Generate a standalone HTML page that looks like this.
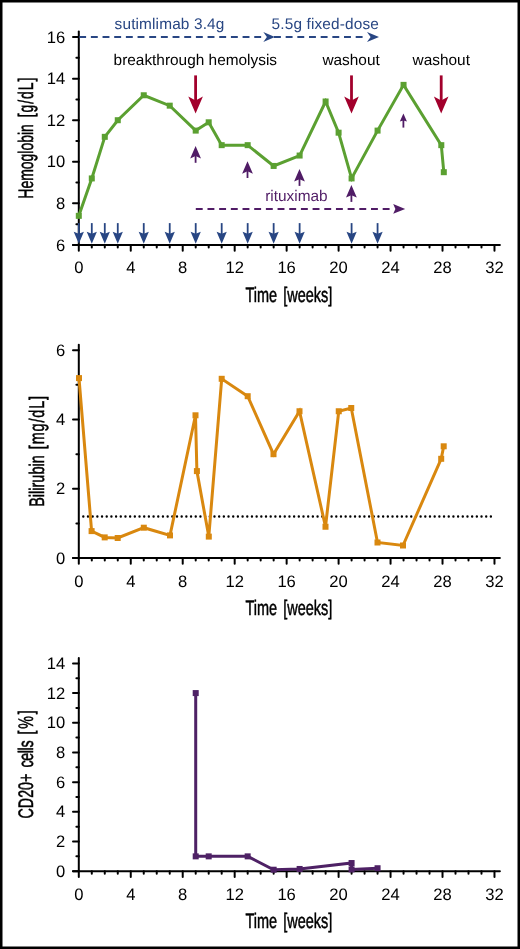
<!DOCTYPE html>
<html><head><meta charset="utf-8"><style>
html,body{margin:0;padding:0;background:#fff;}
body{width:520px;height:949px;overflow:hidden;}
svg{display:block;will-change:transform;text-rendering:geometricPrecision;}
.tk{font-family:"Liberation Sans",sans-serif;font-size:16.6px;fill:#000;}
.an{font-family:"Liberation Sans",sans-serif;font-size:15.4px;}
.bl{letter-spacing:0.14px;}
.ttl{font-family:"Liberation Sans",sans-serif;font-size:21px;fill:#000;stroke:#000;stroke-width:0.5px;word-spacing:3px;}
</style></head><body>
<svg width="520" height="949" viewBox="0 0 520 949">
<rect x="0" y="0" width="520" height="949" fill="#fff"/>
<g stroke="#000" stroke-width="2" stroke-linecap="round">
<line x1="78.8" y1="31.6" x2="78.8" y2="244.95"/>
<line x1="73" y1="244.95" x2="499.9" y2="244.95"/>
<line x1="73" y1="244.95" x2="78.8" y2="244.95"/>
<line x1="73" y1="203.37" x2="78.8" y2="203.37"/>
<line x1="73" y1="161.79" x2="78.8" y2="161.79"/>
<line x1="73" y1="120.21" x2="78.8" y2="120.21"/>
<line x1="73" y1="78.63" x2="78.8" y2="78.63"/>
<line x1="73" y1="37.05" x2="78.8" y2="37.05"/>
<line x1="76.4" y1="224.16" x2="78.8" y2="224.16"/>
<line x1="76.4" y1="182.58" x2="78.8" y2="182.58"/>
<line x1="76.4" y1="141" x2="78.8" y2="141"/>
<line x1="76.4" y1="99.42" x2="78.8" y2="99.42"/>
<line x1="76.4" y1="57.84" x2="78.8" y2="57.84"/>
<line x1="78.8" y1="244.95" x2="78.8" y2="250.65"/>
<line x1="91.79" y1="244.95" x2="91.79" y2="247.45"/>
<line x1="104.78" y1="244.95" x2="104.78" y2="247.45"/>
<line x1="117.77" y1="244.95" x2="117.77" y2="247.45"/>
<line x1="130.76" y1="244.95" x2="130.76" y2="250.65"/>
<line x1="143.75" y1="244.95" x2="143.75" y2="247.45"/>
<line x1="156.74" y1="244.95" x2="156.74" y2="247.45"/>
<line x1="169.73" y1="244.95" x2="169.73" y2="247.45"/>
<line x1="182.72" y1="244.95" x2="182.72" y2="250.65"/>
<line x1="195.71" y1="244.95" x2="195.71" y2="247.45"/>
<line x1="208.7" y1="244.95" x2="208.7" y2="247.45"/>
<line x1="221.69" y1="244.95" x2="221.69" y2="247.45"/>
<line x1="234.68" y1="244.95" x2="234.68" y2="250.65"/>
<line x1="247.67" y1="244.95" x2="247.67" y2="247.45"/>
<line x1="260.66" y1="244.95" x2="260.66" y2="247.45"/>
<line x1="273.65" y1="244.95" x2="273.65" y2="247.45"/>
<line x1="286.64" y1="244.95" x2="286.64" y2="250.65"/>
<line x1="299.63" y1="244.95" x2="299.63" y2="247.45"/>
<line x1="312.62" y1="244.95" x2="312.62" y2="247.45"/>
<line x1="325.61" y1="244.95" x2="325.61" y2="247.45"/>
<line x1="338.6" y1="244.95" x2="338.6" y2="250.65"/>
<line x1="351.59" y1="244.95" x2="351.59" y2="247.45"/>
<line x1="364.58" y1="244.95" x2="364.58" y2="247.45"/>
<line x1="377.57" y1="244.95" x2="377.57" y2="247.45"/>
<line x1="390.56" y1="244.95" x2="390.56" y2="250.65"/>
<line x1="403.55" y1="244.95" x2="403.55" y2="247.45"/>
<line x1="416.54" y1="244.95" x2="416.54" y2="247.45"/>
<line x1="429.53" y1="244.95" x2="429.53" y2="247.45"/>
<line x1="442.52" y1="244.95" x2="442.52" y2="250.65"/>
<line x1="455.51" y1="244.95" x2="455.51" y2="247.45"/>
<line x1="468.5" y1="244.95" x2="468.5" y2="247.45"/>
<line x1="481.49" y1="244.95" x2="481.49" y2="247.45"/>
<line x1="494.48" y1="244.95" x2="494.48" y2="250.65"/>
</g>
<text x="65.2" y="250.55" text-anchor="end" class="tk">6</text>
<text x="65.2" y="208.97" text-anchor="end" class="tk">8</text>
<text x="65.2" y="167.39" text-anchor="end" class="tk">10</text>
<text x="65.2" y="125.81" text-anchor="end" class="tk">12</text>
<text x="65.2" y="84.23" text-anchor="end" class="tk">14</text>
<text x="65.2" y="42.65" text-anchor="end" class="tk">16</text>
<text x="78.8" y="273.35" text-anchor="middle" class="tk">0</text>
<text x="130.76" y="273.35" text-anchor="middle" class="tk">4</text>
<text x="182.72" y="273.35" text-anchor="middle" class="tk">8</text>
<text x="234.68" y="273.35" text-anchor="middle" class="tk">12</text>
<text x="286.64" y="273.35" text-anchor="middle" class="tk">16</text>
<text x="338.6" y="273.35" text-anchor="middle" class="tk">20</text>
<text x="390.56" y="273.35" text-anchor="middle" class="tk">24</text>
<text x="442.52" y="273.35" text-anchor="middle" class="tk">28</text>
<text x="494.48" y="273.35" text-anchor="middle" class="tk">32</text>
<text transform="translate(288.9,301.95) scale(0.69,1)" text-anchor="middle" class="ttl">Time [weeks]</text>
<text transform="translate(32.9,138.15) rotate(-90) scale(0.665,1)" text-anchor="middle" class="ttl">Hemoglobin<tspan style="word-spacing:4.4px"> </tspan><tspan style="letter-spacing:1.45px">[g/dL</tspan>]</text>
<line x1="79.2" y1="37.0" x2="264" y2="37.0" stroke="#284683" stroke-width="2" stroke-dasharray="6.9 4.77"/>
<line x1="274.0" y1="37.0" x2="367" y2="37.0" stroke="#284683" stroke-width="2" stroke-dasharray="6.9 4.77"/>
<path d="M274.9,37 L263.3,31.9 L266.9,37 L263.3,42.1 Z" fill="#284683"/>
<path d="M379,37 L367,31.9 L370.6,37 L367,42.1 Z" fill="#284683"/>
<text x="114.6" y="28.9" class="an bl" fill="#284683">sutimlimab 3.4g</text>
<text x="271.6" y="28.9" class="an bl" fill="#284683">5.5g fixed-dose</text>
<text x="113.6" y="65" class="an" fill="#000">breakthrough hemolysis</text>
<text x="322.4" y="64.6" class="an" fill="#000">washout</text>
<text x="412.6" y="64.6" class="an" fill="#000">washout</text>
<line x1="195.6" y1="75.4" x2="195.6" y2="103.4" stroke="#a2002c" stroke-width="2.8"/>
<path d="M195.6,113.6 L188.3,96.6 L195.6,100.4 L202.9,96.6 Z" fill="#a2002c"/>
<line x1="351.5" y1="75.4" x2="351.5" y2="103.4" stroke="#a2002c" stroke-width="2.8"/>
<path d="M351.5,113.6 L344.2,96.6 L351.5,100.4 L358.8,96.6 Z" fill="#a2002c"/>
<line x1="441.2" y1="75.4" x2="441.2" y2="103.4" stroke="#a2002c" stroke-width="2.8"/>
<path d="M441.2,113.6 L433.9,96.6 L441.2,100.4 L448.5,96.6 Z" fill="#a2002c"/>
<line x1="195.6" y1="153.1" x2="195.6" y2="162.8" stroke="#501c66" stroke-width="1.8"/>
<path d="M195.6,146 L190.2,158.5 L195.6,156.1 L201,158.5 Z" fill="#501c66"/>
<line x1="247.5" y1="168.3" x2="247.5" y2="178" stroke="#501c66" stroke-width="1.8"/>
<path d="M247.5,161.2 L242.1,173.7 L247.5,171.3 L252.9,173.7 Z" fill="#501c66"/>
<line x1="299.5" y1="176.2" x2="299.5" y2="185.9" stroke="#501c66" stroke-width="1.8"/>
<path d="M299.5,169.1 L294.1,181.6 L299.5,179.2 L304.9,181.6 Z" fill="#501c66"/>
<line x1="351.4" y1="192.2" x2="351.4" y2="201.9" stroke="#501c66" stroke-width="1.8"/>
<path d="M351.4,185.1 L346,197.6 L351.4,195.2 L356.8,197.6 Z" fill="#501c66"/>
<line x1="403.4" y1="117.4" x2="403.4" y2="127.6" stroke="#501c66" stroke-width="1.8"/>
<path d="M403.4,113.6 L399.85,121.6 L403.4,120.4 L406.95,121.6 Z" fill="#501c66"/>
<line x1="195.8" y1="208.9" x2="393" y2="208.9" stroke="#501c66" stroke-width="2" stroke-dasharray="6.9 4.78"/>
<path d="M405.2,208.9 L393.2,204.1 L395.4,208.9 L393.2,213.7 Z" fill="#501c66"/>
<text x="265.2" y="201.2" class="an" fill="#501c66">rituximab</text>
<line x1="78.8" y1="223.1" x2="78.8" y2="236.8" stroke="#284683" stroke-width="1.8"/>
<path d="M78.8,243.8 L73.7,231.8 L78.8,233.8 L83.9,231.8 Z" fill="#284683"/>
<line x1="91.79" y1="223.1" x2="91.79" y2="236.8" stroke="#284683" stroke-width="1.8"/>
<path d="M91.79,243.8 L86.69,231.8 L91.79,233.8 L96.89,231.8 Z" fill="#284683"/>
<line x1="104.78" y1="223.1" x2="104.78" y2="236.8" stroke="#284683" stroke-width="1.8"/>
<path d="M104.78,243.8 L99.68,231.8 L104.78,233.8 L109.88,231.8 Z" fill="#284683"/>
<line x1="117.77" y1="223.1" x2="117.77" y2="236.8" stroke="#284683" stroke-width="1.8"/>
<path d="M117.77,243.8 L112.67,231.8 L117.77,233.8 L122.87,231.8 Z" fill="#284683"/>
<line x1="143.75" y1="223.1" x2="143.75" y2="236.8" stroke="#284683" stroke-width="1.8"/>
<path d="M143.75,243.8 L138.65,231.8 L143.75,233.8 L148.85,231.8 Z" fill="#284683"/>
<line x1="169.73" y1="223.1" x2="169.73" y2="236.8" stroke="#284683" stroke-width="1.8"/>
<path d="M169.73,243.8 L164.63,231.8 L169.73,233.8 L174.83,231.8 Z" fill="#284683"/>
<line x1="195.71" y1="223.1" x2="195.71" y2="236.8" stroke="#284683" stroke-width="1.8"/>
<path d="M195.71,243.8 L190.61,231.8 L195.71,233.8 L200.81,231.8 Z" fill="#284683"/>
<line x1="221.69" y1="223.1" x2="221.69" y2="236.8" stroke="#284683" stroke-width="1.8"/>
<path d="M221.69,243.8 L216.59,231.8 L221.69,233.8 L226.79,231.8 Z" fill="#284683"/>
<line x1="247.67" y1="223.1" x2="247.67" y2="236.8" stroke="#284683" stroke-width="1.8"/>
<path d="M247.67,243.8 L242.57,231.8 L247.67,233.8 L252.77,231.8 Z" fill="#284683"/>
<line x1="273.65" y1="223.1" x2="273.65" y2="236.8" stroke="#284683" stroke-width="1.8"/>
<path d="M273.65,243.8 L268.55,231.8 L273.65,233.8 L278.75,231.8 Z" fill="#284683"/>
<line x1="299.63" y1="223.1" x2="299.63" y2="236.8" stroke="#284683" stroke-width="1.8"/>
<path d="M299.63,243.8 L294.53,231.8 L299.63,233.8 L304.73,231.8 Z" fill="#284683"/>
<line x1="351.59" y1="223.1" x2="351.59" y2="236.8" stroke="#284683" stroke-width="1.8"/>
<path d="M351.59,243.8 L346.49,231.8 L351.59,233.8 L356.69,231.8 Z" fill="#284683"/>
<line x1="377.57" y1="223.1" x2="377.57" y2="236.8" stroke="#284683" stroke-width="1.8"/>
<path d="M377.57,243.8 L372.47,231.8 L377.57,233.8 L382.67,231.8 Z" fill="#284683"/>
<polyline points="78.8,215.84 91.79,178.42 104.78,136.84 117.77,120.21 143.75,95.26 169.73,105.66 195.71,130.6 208.7,122.29 221.69,145.16 247.67,145.16 273.65,165.95 299.63,155.55 325.61,101.5 338.6,132.68 351.59,178.42 377.57,130.6 403.55,84.87 441.3,145.16 443.8,172.19" fill="none" stroke="#5ba031" stroke-width="3" stroke-linejoin="miter"/>
<rect x="75.8" y="212.84" width="6" height="6" fill="#5ba031"/>
<rect x="88.79" y="175.42" width="6" height="6" fill="#5ba031"/>
<rect x="101.78" y="133.84" width="6" height="6" fill="#5ba031"/>
<rect x="114.77" y="117.21" width="6" height="6" fill="#5ba031"/>
<rect x="140.75" y="92.26" width="6" height="6" fill="#5ba031"/>
<rect x="166.73" y="102.66" width="6" height="6" fill="#5ba031"/>
<rect x="192.71" y="127.6" width="6" height="6" fill="#5ba031"/>
<rect x="205.7" y="119.29" width="6" height="6" fill="#5ba031"/>
<rect x="218.69" y="142.16" width="6" height="6" fill="#5ba031"/>
<rect x="244.67" y="142.16" width="6" height="6" fill="#5ba031"/>
<rect x="270.65" y="162.95" width="6" height="6" fill="#5ba031"/>
<rect x="296.63" y="152.55" width="6" height="6" fill="#5ba031"/>
<rect x="322.61" y="98.5" width="6" height="6" fill="#5ba031"/>
<rect x="335.6" y="129.68" width="6" height="6" fill="#5ba031"/>
<rect x="348.59" y="175.42" width="6" height="6" fill="#5ba031"/>
<rect x="374.57" y="127.6" width="6" height="6" fill="#5ba031"/>
<rect x="400.55" y="81.87" width="6" height="6" fill="#5ba031"/>
<rect x="438.3" y="142.16" width="6" height="6" fill="#5ba031"/>
<rect x="440.8" y="169.19" width="6" height="6" fill="#5ba031"/>
<g stroke="#000" stroke-width="2" stroke-linecap="round">
<line x1="78.8" y1="344.8" x2="78.8" y2="558.1"/>
<line x1="73" y1="558.1" x2="499.9" y2="558.1"/>
<line x1="73" y1="558.1" x2="78.8" y2="558.1"/>
<line x1="73" y1="488.8" x2="78.8" y2="488.8"/>
<line x1="73" y1="419.5" x2="78.8" y2="419.5"/>
<line x1="73" y1="350.2" x2="78.8" y2="350.2"/>
<line x1="76.4" y1="523.45" x2="78.8" y2="523.45"/>
<line x1="76.4" y1="454.15" x2="78.8" y2="454.15"/>
<line x1="76.4" y1="384.85" x2="78.8" y2="384.85"/>
<line x1="78.8" y1="558.1" x2="78.8" y2="563.8"/>
<line x1="91.79" y1="558.1" x2="91.79" y2="560.6"/>
<line x1="104.78" y1="558.1" x2="104.78" y2="560.6"/>
<line x1="117.77" y1="558.1" x2="117.77" y2="560.6"/>
<line x1="130.76" y1="558.1" x2="130.76" y2="563.8"/>
<line x1="143.75" y1="558.1" x2="143.75" y2="560.6"/>
<line x1="156.74" y1="558.1" x2="156.74" y2="560.6"/>
<line x1="169.73" y1="558.1" x2="169.73" y2="560.6"/>
<line x1="182.72" y1="558.1" x2="182.72" y2="563.8"/>
<line x1="195.71" y1="558.1" x2="195.71" y2="560.6"/>
<line x1="208.7" y1="558.1" x2="208.7" y2="560.6"/>
<line x1="221.69" y1="558.1" x2="221.69" y2="560.6"/>
<line x1="234.68" y1="558.1" x2="234.68" y2="563.8"/>
<line x1="247.67" y1="558.1" x2="247.67" y2="560.6"/>
<line x1="260.66" y1="558.1" x2="260.66" y2="560.6"/>
<line x1="273.65" y1="558.1" x2="273.65" y2="560.6"/>
<line x1="286.64" y1="558.1" x2="286.64" y2="563.8"/>
<line x1="299.63" y1="558.1" x2="299.63" y2="560.6"/>
<line x1="312.62" y1="558.1" x2="312.62" y2="560.6"/>
<line x1="325.61" y1="558.1" x2="325.61" y2="560.6"/>
<line x1="338.6" y1="558.1" x2="338.6" y2="563.8"/>
<line x1="351.59" y1="558.1" x2="351.59" y2="560.6"/>
<line x1="364.58" y1="558.1" x2="364.58" y2="560.6"/>
<line x1="377.57" y1="558.1" x2="377.57" y2="560.6"/>
<line x1="390.56" y1="558.1" x2="390.56" y2="563.8"/>
<line x1="403.55" y1="558.1" x2="403.55" y2="560.6"/>
<line x1="416.54" y1="558.1" x2="416.54" y2="560.6"/>
<line x1="429.53" y1="558.1" x2="429.53" y2="560.6"/>
<line x1="442.52" y1="558.1" x2="442.52" y2="563.8"/>
<line x1="455.51" y1="558.1" x2="455.51" y2="560.6"/>
<line x1="468.5" y1="558.1" x2="468.5" y2="560.6"/>
<line x1="481.49" y1="558.1" x2="481.49" y2="560.6"/>
<line x1="494.48" y1="558.1" x2="494.48" y2="563.8"/>
</g>
<text x="65.2" y="563.7" text-anchor="end" class="tk">0</text>
<text x="65.2" y="494.4" text-anchor="end" class="tk">2</text>
<text x="65.2" y="425.1" text-anchor="end" class="tk">4</text>
<text x="65.2" y="355.8" text-anchor="end" class="tk">6</text>
<text x="78.8" y="586.5" text-anchor="middle" class="tk">0</text>
<text x="130.76" y="586.5" text-anchor="middle" class="tk">4</text>
<text x="182.72" y="586.5" text-anchor="middle" class="tk">8</text>
<text x="234.68" y="586.5" text-anchor="middle" class="tk">12</text>
<text x="286.64" y="586.5" text-anchor="middle" class="tk">16</text>
<text x="338.6" y="586.5" text-anchor="middle" class="tk">20</text>
<text x="390.56" y="586.5" text-anchor="middle" class="tk">24</text>
<text x="442.52" y="586.5" text-anchor="middle" class="tk">28</text>
<text x="494.48" y="586.5" text-anchor="middle" class="tk">32</text>
<text transform="translate(288.9,615.1) scale(0.69,1)" text-anchor="middle" class="ttl">Time [weeks]</text>
<text transform="translate(43.5,451.35) rotate(-90) scale(0.69,1)" text-anchor="middle" class="ttl">Bilirubin <tspan style="letter-spacing:1.2px">[mg/dL</tspan>]</text>
<line x1="83.3" y1="516.5" x2="491.5" y2="516.5" stroke="#000" stroke-width="2.4" stroke-dasharray="0 4.685" stroke-linecap="round"/>
<polyline points="79,378.1 91.6,531.1 104.7,537.4 117.7,538 143.8,527.7 170,535.4 195.5,415.3 196.9,471.1 208.8,536.6 221.7,378.8 247.7,396.2 273.5,454.2 299.5,411.25 325.5,526.75 338.75,411.25 351.25,408 377.5,542.5 403,545.5 441.2,458.8 443.7,446.3" fill="none" stroke="#d9880f" stroke-width="3" stroke-linejoin="miter"/>
<rect x="76" y="375.1" width="6" height="6" fill="#d9880f"/>
<rect x="88.6" y="528.1" width="6" height="6" fill="#d9880f"/>
<rect x="101.7" y="534.4" width="6" height="6" fill="#d9880f"/>
<rect x="114.7" y="535" width="6" height="6" fill="#d9880f"/>
<rect x="140.8" y="524.7" width="6" height="6" fill="#d9880f"/>
<rect x="167" y="532.4" width="6" height="6" fill="#d9880f"/>
<rect x="192.5" y="412.3" width="6" height="6" fill="#d9880f"/>
<rect x="193.9" y="468.1" width="6" height="6" fill="#d9880f"/>
<rect x="205.8" y="533.6" width="6" height="6" fill="#d9880f"/>
<rect x="218.7" y="375.8" width="6" height="6" fill="#d9880f"/>
<rect x="244.7" y="393.2" width="6" height="6" fill="#d9880f"/>
<rect x="270.5" y="451.2" width="6" height="6" fill="#d9880f"/>
<rect x="296.5" y="408.25" width="6" height="6" fill="#d9880f"/>
<rect x="322.5" y="523.75" width="6" height="6" fill="#d9880f"/>
<rect x="335.75" y="408.25" width="6" height="6" fill="#d9880f"/>
<rect x="348.25" y="405" width="6" height="6" fill="#d9880f"/>
<rect x="374.5" y="539.5" width="6" height="6" fill="#d9880f"/>
<rect x="400" y="542.5" width="6" height="6" fill="#d9880f"/>
<rect x="438.2" y="455.8" width="6" height="6" fill="#d9880f"/>
<rect x="440.7" y="443.3" width="6" height="6" fill="#d9880f"/>
<g stroke="#000" stroke-width="2" stroke-linecap="round">
<line x1="78.8" y1="657.9" x2="78.8" y2="871.2"/>
<line x1="73" y1="871.2" x2="499.9" y2="871.2"/>
<line x1="73" y1="871.2" x2="78.8" y2="871.2"/>
<line x1="73" y1="841.51" x2="78.8" y2="841.51"/>
<line x1="73" y1="811.83" x2="78.8" y2="811.83"/>
<line x1="73" y1="782.14" x2="78.8" y2="782.14"/>
<line x1="73" y1="752.46" x2="78.8" y2="752.46"/>
<line x1="73" y1="722.77" x2="78.8" y2="722.77"/>
<line x1="73" y1="693.08" x2="78.8" y2="693.08"/>
<line x1="73" y1="663.4" x2="78.8" y2="663.4"/>
<line x1="76.4" y1="856.36" x2="78.8" y2="856.36"/>
<line x1="76.4" y1="826.67" x2="78.8" y2="826.67"/>
<line x1="76.4" y1="796.99" x2="78.8" y2="796.99"/>
<line x1="76.4" y1="767.3" x2="78.8" y2="767.3"/>
<line x1="76.4" y1="737.61" x2="78.8" y2="737.61"/>
<line x1="76.4" y1="707.93" x2="78.8" y2="707.93"/>
<line x1="76.4" y1="678.24" x2="78.8" y2="678.24"/>
<line x1="78.8" y1="871.2" x2="78.8" y2="876.9"/>
<line x1="91.79" y1="871.2" x2="91.79" y2="873.7"/>
<line x1="104.78" y1="871.2" x2="104.78" y2="873.7"/>
<line x1="117.77" y1="871.2" x2="117.77" y2="873.7"/>
<line x1="130.76" y1="871.2" x2="130.76" y2="876.9"/>
<line x1="143.75" y1="871.2" x2="143.75" y2="873.7"/>
<line x1="156.74" y1="871.2" x2="156.74" y2="873.7"/>
<line x1="169.73" y1="871.2" x2="169.73" y2="873.7"/>
<line x1="182.72" y1="871.2" x2="182.72" y2="876.9"/>
<line x1="195.71" y1="871.2" x2="195.71" y2="873.7"/>
<line x1="208.7" y1="871.2" x2="208.7" y2="873.7"/>
<line x1="221.69" y1="871.2" x2="221.69" y2="873.7"/>
<line x1="234.68" y1="871.2" x2="234.68" y2="876.9"/>
<line x1="247.67" y1="871.2" x2="247.67" y2="873.7"/>
<line x1="260.66" y1="871.2" x2="260.66" y2="873.7"/>
<line x1="273.65" y1="871.2" x2="273.65" y2="873.7"/>
<line x1="286.64" y1="871.2" x2="286.64" y2="876.9"/>
<line x1="299.63" y1="871.2" x2="299.63" y2="873.7"/>
<line x1="312.62" y1="871.2" x2="312.62" y2="873.7"/>
<line x1="325.61" y1="871.2" x2="325.61" y2="873.7"/>
<line x1="338.6" y1="871.2" x2="338.6" y2="876.9"/>
<line x1="351.59" y1="871.2" x2="351.59" y2="873.7"/>
<line x1="364.58" y1="871.2" x2="364.58" y2="873.7"/>
<line x1="377.57" y1="871.2" x2="377.57" y2="873.7"/>
<line x1="390.56" y1="871.2" x2="390.56" y2="876.9"/>
<line x1="403.55" y1="871.2" x2="403.55" y2="873.7"/>
<line x1="416.54" y1="871.2" x2="416.54" y2="873.7"/>
<line x1="429.53" y1="871.2" x2="429.53" y2="873.7"/>
<line x1="442.52" y1="871.2" x2="442.52" y2="876.9"/>
<line x1="455.51" y1="871.2" x2="455.51" y2="873.7"/>
<line x1="468.5" y1="871.2" x2="468.5" y2="873.7"/>
<line x1="481.49" y1="871.2" x2="481.49" y2="873.7"/>
<line x1="494.48" y1="871.2" x2="494.48" y2="876.9"/>
</g>
<text x="65.2" y="876.8" text-anchor="end" class="tk">0</text>
<text x="65.2" y="847.11" text-anchor="end" class="tk">2</text>
<text x="65.2" y="817.43" text-anchor="end" class="tk">4</text>
<text x="65.2" y="787.74" text-anchor="end" class="tk">6</text>
<text x="65.2" y="758.06" text-anchor="end" class="tk">8</text>
<text x="65.2" y="728.37" text-anchor="end" class="tk">10</text>
<text x="65.2" y="698.68" text-anchor="end" class="tk">12</text>
<text x="65.2" y="669" text-anchor="end" class="tk">14</text>
<text x="78.8" y="899.6" text-anchor="middle" class="tk">0</text>
<text x="130.76" y="899.6" text-anchor="middle" class="tk">4</text>
<text x="182.72" y="899.6" text-anchor="middle" class="tk">8</text>
<text x="234.68" y="899.6" text-anchor="middle" class="tk">12</text>
<text x="286.64" y="899.6" text-anchor="middle" class="tk">16</text>
<text x="338.6" y="899.6" text-anchor="middle" class="tk">20</text>
<text x="390.56" y="899.6" text-anchor="middle" class="tk">24</text>
<text x="442.52" y="899.6" text-anchor="middle" class="tk">28</text>
<text x="494.48" y="899.6" text-anchor="middle" class="tk">32</text>
<text transform="translate(288.9,928.2) scale(0.69,1)" text-anchor="middle" class="ttl">Time [weeks]</text>
<text transform="translate(33.2,764.35) rotate(-90) scale(0.68,1)" text-anchor="middle" class="ttl">CD20+ <tspan style="letter-spacing:-0.5px">cell</tspan>s <tspan style="letter-spacing:2.6px">[%</tspan>]</text>
<polyline points="195.71,693.08 195.71,856.36 208.7,856.36 247.67,856.36 273.65,869.72 299.63,868.97 351.59,863.04 351.59,869.42 377.57,868.23" fill="none" stroke="#4e2165" stroke-width="3" stroke-linejoin="miter"/>
<rect x="192.71" y="690.08" width="6" height="6" fill="#4e2165"/>
<rect x="192.71" y="853.36" width="6" height="6" fill="#4e2165"/>
<rect x="205.7" y="853.36" width="6" height="6" fill="#4e2165"/>
<rect x="244.67" y="853.36" width="6" height="6" fill="#4e2165"/>
<rect x="270.65" y="866.72" width="6" height="6" fill="#4e2165"/>
<rect x="296.63" y="865.97" width="6" height="6" fill="#4e2165"/>
<rect x="348.59" y="860.04" width="6" height="6" fill="#4e2165"/>
<rect x="348.59" y="866.42" width="6" height="6" fill="#4e2165"/>
<rect x="374.57" y="865.23" width="6" height="6" fill="#4e2165"/>
<rect x="1.25" y="1.25" width="517.5" height="946.5" fill="none" stroke="#000" stroke-width="2.5"/>
</svg>
</body></html>
